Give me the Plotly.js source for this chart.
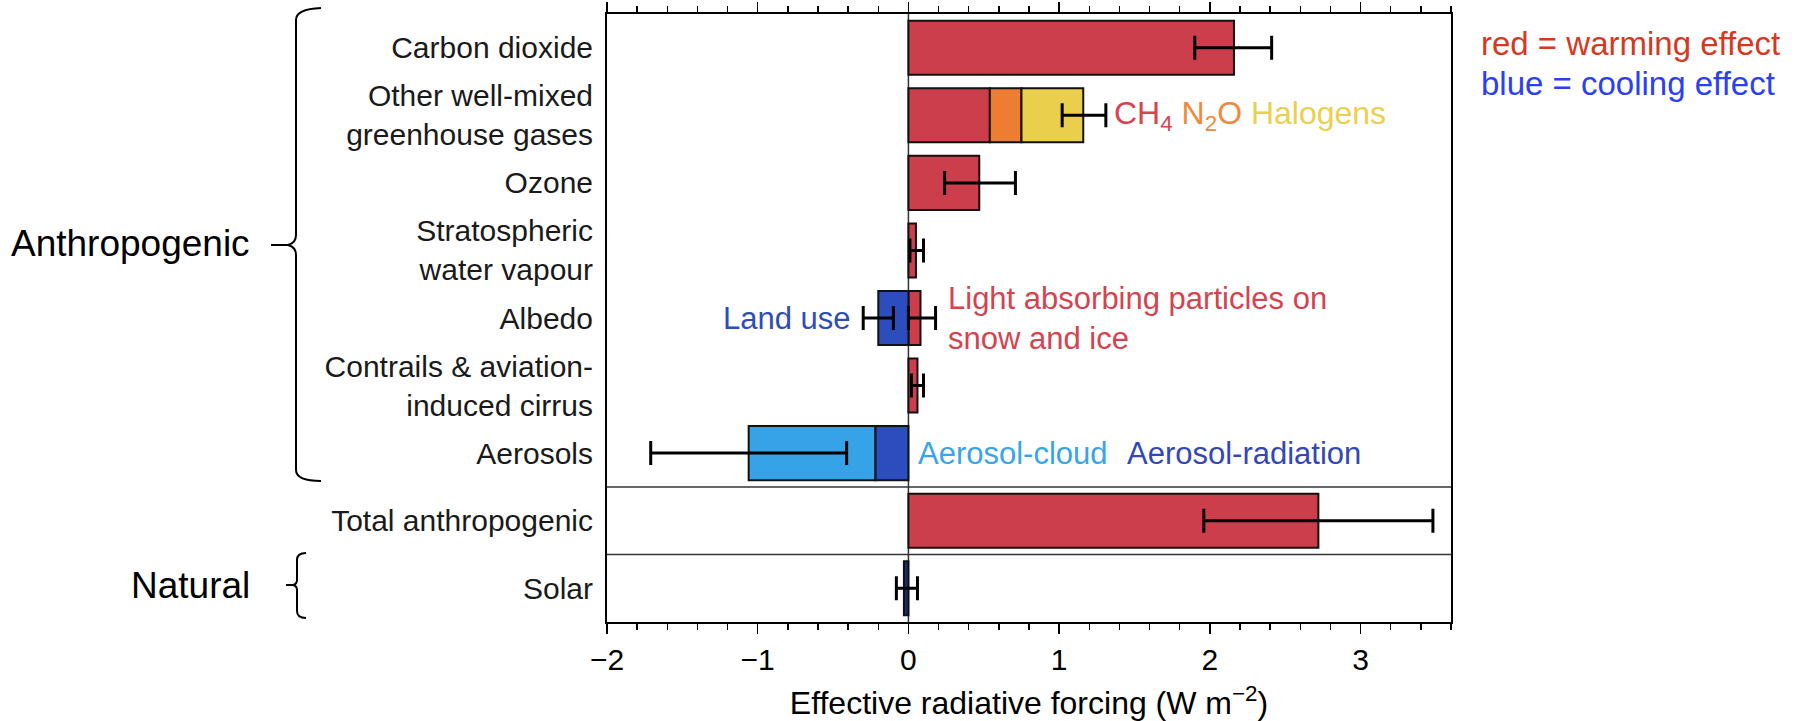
<!DOCTYPE html>
<html>
<head>
<meta charset="utf-8">
<script src="https://cdn.plot.ly/plotly-3.0.1.min.js"></script>
<style>html,body{margin:0;padding:0;background:#fff;}#chart{width:1810px;height:721px;}</style>
</head>
<body>
<div id="chart"></div>
<script>
// ---- data ----
const categories = ["Carbon dioxide", "Other well-mixed<br>greenhouse gases", "Ozone",
  "Stratospheric<br>water vapour", "Albedo", "Contrails & aviation-<br>induced cirrus",
  "Aerosols", "Total anthropogenic", "Solar"];
const warming   = [2.16, 0.54, 0.47, 0.05, 0.08, 0.06, null, 2.72, null]; // red
const n2o       = [null, 0.21, null, null, null, null, null, null, null];
const halogens  = [null, 0.41, null, null, null, null, null, null, null];
const landUse   = [null, null, null, null, -0.20, null, null, null, null];
const aerRad    = [null, null, null, null, null, null, -0.22, null, null];
const aerCloud  = [null, null, null, null, null, null, -0.84, null, null];
const solar     = [null, null, null, null, null, null, null, null, -0.03];
// error bars (best estimate, low, high)
const errRows   = ["Carbon dioxide", "Other well-mixed<br>greenhouse gases", "Ozone",
  "Stratospheric<br>water vapour", "Albedo", "Albedo", "Contrails & aviation-<br>induced cirrus",
  "Aerosols", "Total anthropogenic", "Solar"];
const errBest   = [2.16, 1.16, 0.47, 0.05, -0.20, 0.08, 0.06, -1.06, 2.72, -0.03];
const errLow    = [1.90, 1.02, 0.24, 0.01, -0.30, 0.00, 0.02, -1.71, 1.96, -0.08];
const errHigh   = [2.41, 1.31, 0.71, 0.10, -0.10, 0.18, 0.10, -0.41, 3.48, 0.06];
const xTickVals = [-2, -1, 0, 1, 2, 3];

// ---- style ----
const RED = '#CC3E4B', ORANGE = '#EE7D31', YELLOW = '#E9CF4B',
      DBLUE = '#2C4DBE', LBLUE = '#36A2E8', NAVY = '#1E2A70';
const FONT = 'Liberation Sans, Arial, sans-serif';
const outline = {color: '#111', width: 2};

function barTrace(name, vals, color) {
  return {type: 'bar', orientation: 'h', name: name, y: categories, x: vals,
          marker: {color: color, line: outline}, hoverinfo: 'skip'};
}
const traces = [
  barTrace('CH4 / warming', warming, RED),
  barTrace('N2O', n2o, ORANGE),
  barTrace('Halogens', halogens, YELLOW),
  barTrace('Land use', landUse, DBLUE),
  barTrace('Aerosol-radiation', aerRad, DBLUE),
  barTrace('Aerosol-cloud', aerCloud, LBLUE),
  barTrace('Solar', solar, NAVY),
  {type: 'scatter', mode: 'markers', y: errRows, x: errBest, hoverinfo: 'skip',
   marker: {opacity: 0, size: 1},
   error_x: {type: 'data', symmetric: false,
             array: errHigh.map((h, i) => h - errBest[i]),
             arrayminus: errLow.map((l, i) => errBest[i] - l),
             color: '#000', thickness: 3, width: 12}}
];

// plot geometry in pixels (for decorations in paper coords)
const L = 607, R = 359, T = 14, B = 99, W = 1810 - L - R, H = 721 - T - B;
const px = x => (x - L) / W;
const py = y => (721 - B - y) / H;
function pth(cmds) {
  let s = '';
  cmds.forEach(c => {
    s += c[0];
    for (let i = 1; i < c.length; i += 2) s += ' ' + px(c[i]).toFixed(5) + ',' + py(c[i + 1]).toFixed(5);
    s += ' ';
  });
  return s.trim();
}
const braceLine = {color: '#000', width: 2};
const bigBrace = pth([['M', 321, 8], ['Q', 296, 9, 296, 20], ['L', 296, 235],
  ['Q', 296, 243, 288, 245], ['Q', 296, 247, 296, 255], ['L', 296, 470],
  ['Q', 296, 481, 321, 481]]);
const bigDash = pth([['M', 271, 245], ['L', 288, 245]]);
const smallBrace = pth([['M', 306, 553], ['Q', 297, 553, 297, 560], ['L', 297, 580],
  ['Q', 297, 584, 293, 585], ['Q', 297, 586, 297, 590], ['L', 297, 611],
  ['Q', 297, 618, 306, 618]]);
const smallDash = pth([['M', 286, 585], ['L', 293, 585]]);

const shapes = [
  {type: 'path', xref: 'paper', yref: 'paper', path: bigBrace, line: braceLine},
  {type: 'path', xref: 'paper', yref: 'paper', path: bigDash, line: braceLine},
  {type: 'path', xref: 'paper', yref: 'paper', path: smallBrace, line: braceLine},
  {type: 'path', xref: 'paper', yref: 'paper', path: smallDash, line: braceLine},
  {type: 'line', xref: 'paper', yref: 'y', x0: 0, x1: 1, y0: 6.5, y1: 6.5, line: {color: '#333', width: 1.5}},
  {type: 'line', xref: 'paper', yref: 'y', x0: 0, x1: 1, y0: 7.5, y1: 7.5, line: {color: '#333', width: 1.5}},
  {type: 'line', xref: 'x', yref: 'paper', x0: 0, x1: 0, y0: 0, y1: 1, layer: 'below', line: {color: '#333', width: 1.5}}
];

const annFont = (c, s) => ({family: FONT, size: s || 31, color: c});
const annotations = [
  {xref: 'x', yref: 'y', x: 1.35, y: 1, xanchor: 'left', yanchor: 'middle', showarrow: false,
   text: "<span style='color:#D9434F'>CH<sub>4</sub></span> <span style='color:#EF8A3B'>N<sub>2</sub>O</span> <span style='color:#EBD04F'>Halogens</span>",
   font: annFont('#D9434F', 32)},
  {xref: 'x', yref: 'y', x: -0.37, y: 4, xanchor: 'right', yanchor: 'middle', showarrow: false,
   text: 'Land use', font: annFont('#2F4DB8')},
  {xref: 'x', yref: 'y', x: 0.25, y: 4, xanchor: 'left', yanchor: 'middle', align: 'left', showarrow: false,
   text: 'Light absorbing particles on<br>snow and ice', font: annFont('#D4434F')},
  {xref: 'x', yref: 'y', x: 0.05, y: 6, xanchor: 'left', yanchor: 'middle', showarrow: false,
   text: 'Aerosol-cloud', font: annFont('#38A4EA')},
  {xref: 'x', yref: 'y', x: 1.44, y: 6, xanchor: 'left', yanchor: 'middle', showarrow: false,
   text: 'Aerosol-radiation', font: annFont('#3347B8')},
  {xref: 'paper', yref: 'paper', x: px(252), y: py(243), xanchor: 'right', yanchor: 'middle', showarrow: false,
   text: 'Anthropogenic', font: annFont('#000', 37)},
  {xref: 'paper', yref: 'paper', x: px(252), y: py(585), xanchor: 'right', yanchor: 'middle', showarrow: false,
   text: 'Natural', font: annFont('#000', 37)},
  {xref: 'paper', yref: 'paper', x: px(1479), y: py(44), xanchor: 'left', yanchor: 'middle', showarrow: false,
   text: 'red = warming effect', font: annFont('#D5391F', 33)},
  {xref: 'paper', yref: 'paper', x: px(1479), y: py(83), xanchor: 'left', yanchor: 'middle', showarrow: false,
   text: 'blue = cooling effect', font: annFont('#2B40F2', 33)}
];

const layout = {
  width: 1810, height: 721,
  margin: {l: L, r: R, t: T, b: B, pad: 0},
  paper_bgcolor: '#fff', plot_bgcolor: '#fff',
  barmode: 'relative', bargap: 0.2,
  showlegend: false,
  font: {family: FONT, color: '#000'},
  xaxis: {
    range: [-2, 3.6], tickvals: xTickVals, ticks: 'outside', ticklen: 10, tickwidth: 1.5, tickcolor: '#000',
    minor: {dtick: 0.2, tick0: 0, ticks: 'outside', ticklen: 6, tickwidth: 1.5, tickcolor: '#000', showgrid: false},
    showline: true, linecolor: '#000', linewidth: 2, mirror: 'allticks',
    showgrid: false, zeroline: false,
    tickfont: {family: FONT, size: 30, color: '#000'},
    title: {text: 'Effective radiative forcing (W m<sup>\u22122</sup>)', font: {family: FONT, size: 32, color: '#000'}, standoff: 20}
  },
  yaxis: {
    type: 'category', range: [8.5, -0.5], ticks: '', showline: true, linecolor: '#000', linewidth: 2,
    mirror: true, showgrid: false, zeroline: false, ticklabelstandoff: 6,
    tickfont: {family: FONT, size: 30, color: '#1a1a1a'}
  },
  shapes: shapes,
  annotations: annotations
};

Plotly.newPlot('chart', traces, layout, {staticPlot: true, displayModeBar: false});
</script>
</body>
</html>
